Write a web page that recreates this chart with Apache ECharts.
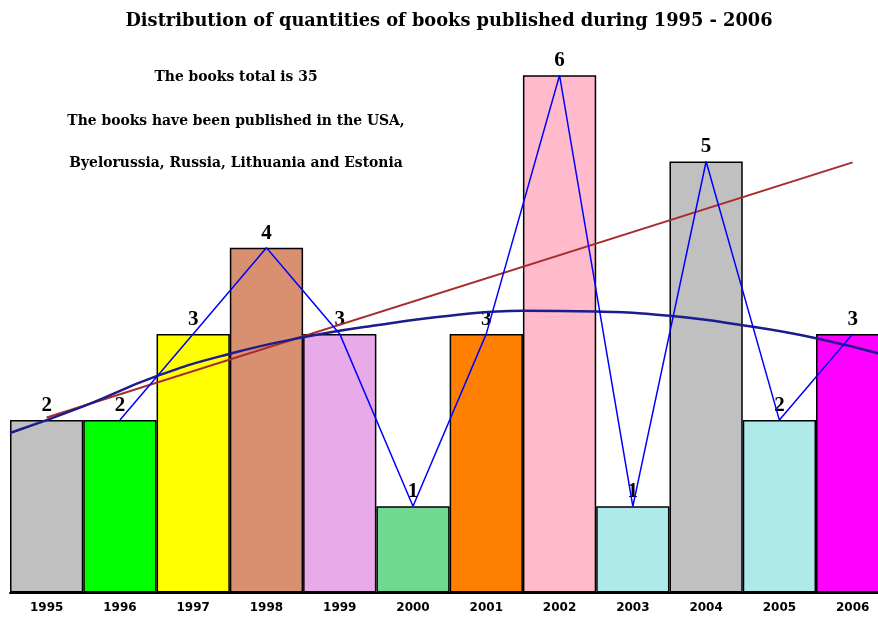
<!DOCTYPE html>
<html>
<head>
<meta charset="utf-8">
<script src="https://cdn.jsdelivr.net/npm/echarts@6/dist/echarts.min.js"></script>
<style>
  html, body { margin: 0; padding: 0; background: #fff; overflow: hidden; }
  /* the plot runs past the right edge, so the chart box is wider than the window */
  #chart { width: 898px; height: 617px; }
</style>
</head>
<body>
<div id="chart"></div>
<script>
// Books published per year
const years = ['1995', '1996', '1997', '1998', '1999', '2000', '2001', '2002', '2003', '2004', '2005', '2006'];
const books = [2, 2, 3, 4, 3, 1, 3, 6, 1, 5, 2, 3];
const barColors = ['#c0c0c0', '#00ff00', '#ffff00', '#d99070', '#e8aae8', '#70d890',
                   '#ff8000', '#ffbbcc', '#aeeaea', '#c0c0c0', '#aeeaea', '#ff00ff'];

// Straight trend line (category index, value)
const trendLinear = [[0, 2.03], [11, 4.99]];

// Curved trend (category index, value)
const curveX = [-0.5, 0.5, 1.5, 2.5, 3.5, 4.5, 5.5, 6.5, 7.5, 8.5, 9.5, 10.5, 11.5];
const curveY = [1.85, 2.16, 2.51, 2.77, 2.96, 3.10, 3.21, 3.27, 3.26, 3.21, 3.10, 2.95, 2.74];

const notes = ['The books total is 35',
               'The books have been published in the USA,',
               'Byelorussia, Russia, Lithuania and Estonia'];
const noteY = [70, 114, 156];

const serif = '"Liberation Serif", serif';
const wideSerif = '"DejaVu Serif", serif';
const chart = echarts.init(document.getElementById('chart'));

chart.setOption({
  animation: false,
  backgroundColor: '#ffffff',
  title: {
    text: 'Distribution of quantities of books published during 1995 - 2006',
    left: 'center',
    top: 7,
    textStyle: { fontFamily: wideSerif, fontWeight: 'bold', fontSize: 17.8, color: '#000' }
  },
  graphic: notes.map((t, i) => ({
    type: 'text',
    x: 236,
    y: noteY[i],
    style: {
      text: t,
      textAlign: 'center',
      font: 'bold 13.9px ' + wideSerif,
      fill: '#000'
    }
  })),
  grid: { left: 10, top: 75.3, width: 879.3, height: 517.2, containLabel: false },
  xAxis: [
    {
      type: 'category',
      data: years,
      axisLine: { lineStyle: { color: '#000', width: 2 } },
      axisTick: { show: false },
      axisLabel: {
        margin: 9,
        fontFamily: '"DejaVu Sans", sans-serif',
        fontWeight: 'bold',
        fontSize: 12,
        color: '#000'
      }
    },
    { type: 'value', min: -0.5, max: 11.5, show: false }
  ],
  yAxis: { type: 'value', min: 0, max: 6, show: false, splitLine: { show: false } },
  series: [
    {
      type: 'bar',
      data: books.map((v, i) => ({ value: v, itemStyle: { color: barColors[i] } })),
      barCategoryGap: '0%',
      itemStyle: { borderColor: '#000', borderWidth: 1.5 },
      label: {
        show: true,
        position: 'top',
        distance: 4,
        fontFamily: serif,
        fontWeight: 'bold',
        fontSize: 21,
        color: '#000'
      }
    },
    {
      type: 'line',
      xAxisIndex: 1,
      data: trendLinear,
      symbol: 'none',
      lineStyle: { color: '#a82c2c', width: 2 }
    },
    {
      type: 'line',
      xAxisIndex: 1,
      data: curveX.map((x, i) => [x, curveY[i]]),
      smooth: true,
      symbol: 'none',
      lineStyle: { color: '#1c1c8c', width: 2.5 }
    },
    {
      type: 'line',
      data: books.map((v, i) => (i === 0 ? null : v)),
      symbol: 'none',
      lineStyle: { color: '#0000ff', width: 1.5 }
    }
  ]
});
</script>
</body>
</html>
